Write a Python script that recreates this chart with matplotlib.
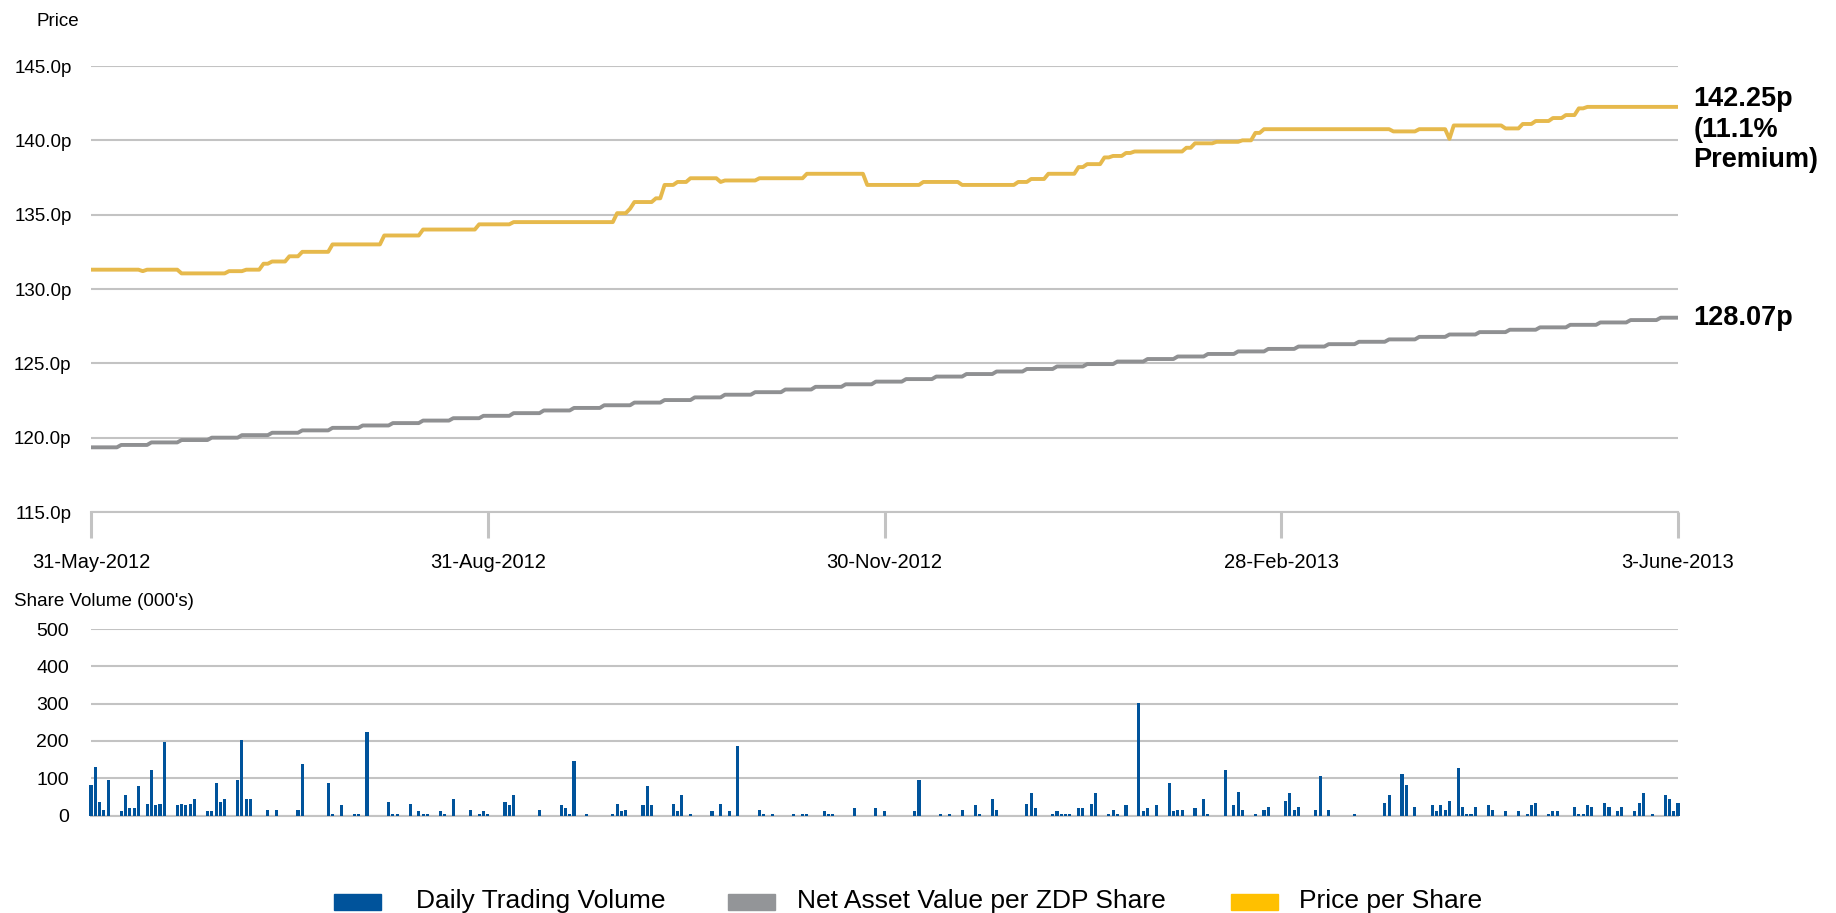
import matplotlib
matplotlib.use("Agg")
import matplotlib.pyplot as plt
from matplotlib.patches import Rectangle
import numpy as np

plt.rcParams['font.family'] = ['Liberation Sans', 'DejaVu Sans']

# x axis runs in days from 31-May-2012 (day 0) to 3-June-2013 (day 368)
n_days = 369
tick_days = [0, 92, 184, 276, 368]
tick_labels = ["31-May-2012", "31-Aug-2012", "30-Nov-2012", "28-Feb-2013", "3-June-2013"]

# price per share: day on which each level starts, and the level (p)
price_days = [0, 12, 13, 21, 32, 36, 40, 42, 46, 49, 56, 68, 77, 90, 98, 122, 125, 126,
              131, 133, 136, 139, 146, 147, 155, 166, 180, 193, 202, 215, 218, 222, 229,
              231, 235, 237, 240, 242, 254, 256, 261, 267, 270, 272, 302, 308, 315, 316,
              328, 332, 335, 339, 342, 345, 347]
price_levels = [131.3, 131.2, 131.3, 131.05, 131.2, 131.3, 131.7, 131.85, 132.2, 132.5,
                133.0, 133.6, 134.0, 134.35, 134.5, 135.1, 135.4, 135.85, 136.1, 137.0,
                137.2, 137.45, 137.2, 137.3, 137.45, 137.75, 137.0, 137.2, 137.0, 137.2,
                137.4, 137.75, 138.2, 138.4, 138.85, 138.95, 139.15, 139.25, 139.5, 139.8,
                139.9, 140.0, 140.5, 140.75, 140.6, 140.75, 140.1, 141.0, 140.8, 141.1,
                141.3, 141.5, 141.7, 142.15, 142.25]

# NAV per ZDP share, weekly values (p)
nav_weekly = [119.35, 119.51, 119.68, 119.84, 120.00, 120.17, 120.33, 120.49, 120.66,
              120.82, 120.98, 121.15, 121.31, 121.47, 121.65, 121.83, 122.00, 122.18,
              122.36, 122.53, 122.71, 122.89, 123.06, 123.24, 123.42, 123.59, 123.77,
              123.94, 124.11, 124.28, 124.45, 124.62, 124.79, 124.95, 125.12, 125.29,
              125.46, 125.63, 125.80, 125.97, 126.13, 126.29, 126.45, 126.61, 126.78,
              126.94, 127.10, 127.26, 127.42, 127.59, 127.75, 127.91, 128.07]

# daily trading volume (000's), only days with trades
vol_days = [0, 1, 2, 3, 4, 7, 8, 9, 10, 11, 13, 14, 15, 16, 17, 20, 21, 22, 23, 24, 27, 28,
            29, 30, 31, 34, 35, 36, 37, 41, 43, 48, 49, 55, 56, 58, 61, 62, 64, 69, 70, 71,
            74, 76, 77, 78, 81, 82, 84, 88, 90, 91, 92, 96, 97, 98, 104, 109, 110, 111, 112,
            115, 121, 122, 123, 124, 128, 129, 130, 135, 136, 137, 139, 144, 146, 148, 150,
            155, 156, 158, 163, 165, 166, 170, 171, 172, 177, 182, 184, 191, 192, 197, 199,
            202, 205, 206, 209, 210, 217, 218, 219, 223, 224, 225, 226, 227, 229, 230, 232,
            233, 236, 237, 238, 240, 243, 244, 245, 247, 250, 251, 252, 253, 256, 258, 259,
            263, 265, 266, 267, 270, 272, 273, 277, 278, 279, 280, 284, 285, 287, 293, 300,
            301, 304, 305, 307, 311, 312, 313, 314, 315, 317, 318, 319, 320, 321, 324, 325,
            328, 331, 333, 334, 335, 338, 339, 340, 344, 345, 346, 347, 348, 351, 352, 354,
            355, 358, 359, 360, 362, 365, 366, 367, 368]
vol_values = [83, 131, 37, 16, 94, 11, 54, 21, 21, 80, 32, 121, 27, 32, 198, 27, 32, 27, 32,
              43, 11, 11, 88, 37, 43, 94, 203, 43, 43, 16, 16, 16, 137, 88, 5, 27, 5, 5, 224,
              37, 5, 5, 32, 11, 5, 5, 11, 5, 43, 16, 5, 11, 5, 37, 27, 54, 16, 27, 21, 5, 147,
              5, 5, 32, 11, 16, 27, 80, 27, 32, 11, 54, 5, 11, 32, 11, 185, 16, 5, 5, 5, 5, 5,
              11, 5, 5, 21, 21, 11, 11, 94, 5, 5, 16, 27, 5, 43, 16, 32, 59, 21, 5, 11, 5, 5,
              5, 21, 21, 32, 59, 5, 16, 5, 27, 302, 11, 21, 27, 88, 11, 16, 16, 21, 43, 5,
              121, 27, 64, 16, 5, 16, 22, 38, 60, 16, 22, 16, 106, 16, 5, 33, 55, 112, 82,
              22, 27, 11, 27, 16, 38, 128, 22, 5, 5, 22, 27, 16, 11, 11, 5, 27, 33, 5, 11, 11,
              22, 5, 5, 27, 22, 33, 22, 11, 22, 11, 33, 60, 5, 55, 44, 11, 33]

days = np.arange(n_days)
price = np.empty(n_days)
for d, v in zip(price_days, price_levels):
    price[d:] = v
nav = np.empty(n_days)
for i, v in enumerate(nav_weekly):
    nav[i * 7:] = v

gold = '#E6B94C'
grey_line = '#8F9092'
blue = '#00539B'
grid_c = '#C3C3C3'
W, H = 1836, 913

fig = plt.figure(figsize=(W / 100, H / 100), dpi=100)

# price chart
ax = fig.add_axes([91 / W, 1 - 512 / H, 1587 / W, 446 / H])
ax.plot(days, nav, color=grey_line, lw=2.8, solid_capstyle='butt', zorder=3)
ax.plot(days, price, color=gold, lw=2.8, solid_capstyle='butt', zorder=3)
ax.set_xlim(0, 368)
ax.set_ylim(115, 145)
ax.set_yticks(np.arange(115, 146, 5))
ax.set_yticklabels(["%.1fp" % v for v in np.arange(115, 146, 5)], fontsize=13.5)
ax.tick_params(axis='y', length=0, pad=14)
ax.yaxis.grid(True, color=grid_c, lw=1.5)
ax.set_axisbelow(True)
ax.set_xticks(tick_days)
ax.set_xticklabels(tick_labels, fontsize=14.5)
ax.tick_params(axis='x', length=19, width=2.2, color=grid_c, pad=10.5)
for s in ['top', 'right', 'left']:
    ax.spines[s].set_visible(False)
ax.spines['bottom'].set_color(grid_c)
ax.spines['bottom'].set_linewidth(1.5)
fig.text(36 / W, 1 - 21 / H, "Price", fontsize=13.5, va='center', ha='left')

ax.annotate("142.25p\n(11.1%\nPremium)", xy=(368, price[-1]), xytext=(11, 15),
            textcoords='offset points', fontsize=19.5, fontweight='bold', va='top',
            ha='left', linespacing=1.23, annotation_clip=False)
ax.annotate("128.07p", xy=(368, nav[-1]), xytext=(11, 0), textcoords='offset points',
            fontsize=19.5, fontweight='bold', va='center', ha='left', annotation_clip=False)

# volume chart
ax2 = fig.add_axes([91 / W, 1 - 815.5 / H, 1587 / W, 186.5 / H])
bars = ax2.bar(vol_days, vol_values, width=0.7, color=blue, zorder=3)
for b in bars:
    b.set_clip_on(False)
ax2.set_xlim(0, 368)
ax2.set_ylim(0, 500)
ax2.set_yticks(np.arange(0, 501, 100))
ax2.set_yticklabels([str(v) for v in range(0, 501, 100)], fontsize=14)
ax2.tick_params(axis='y', length=0, pad=16)
ax2.set_xticks([])
ax2.yaxis.grid(True, color=grid_c, lw=1.5)
ax2.set_axisbelow(True)
for s in ['top', 'right', 'left']:
    ax2.spines[s].set_visible(False)
ax2.spines['bottom'].set_color(grid_c)
ax2.spines['bottom'].set_linewidth(1.5)
fig.text(14 / W, 1 - 601 / H, "Share Volume (000's)", fontsize=13.5, va='center',
         ha='left')

# legend
legend_items = [("Daily Trading Volume", '#00539B', 334, 416),
                ("Net Asset Value per ZDP Share", '#939598', 728, 797),
                ("Price per Share", '#FFC000', 1231, 1299)]
for label, c, px, tx in legend_items:
    fig.add_artist(Rectangle((px / W, 1 - 910 / H), 47 / W, 16 / H, color=c,
                             transform=fig.transFigure))
    fig.text(tx / W, 1 - 901 / H, label, fontsize=19, va='center', ha='left')

fig.savefig("out.png", dpi=100, facecolor='white')
